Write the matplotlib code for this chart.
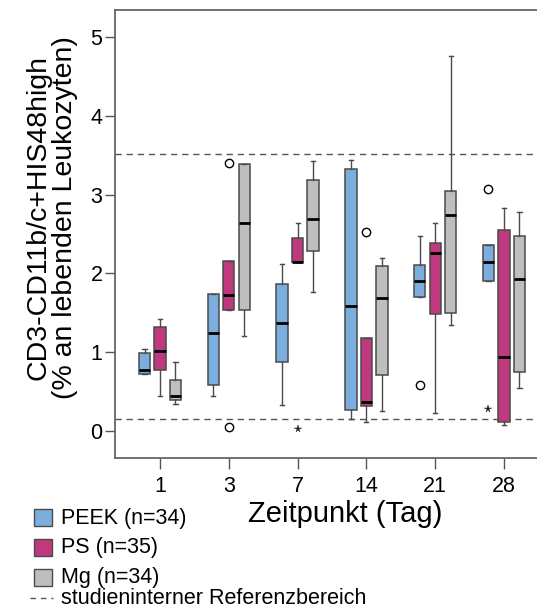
import matplotlib
matplotlib.use("Agg")
import matplotlib.pyplot as plt
from matplotlib.patches import Rectangle
from matplotlib.lines import Line2D

plt.rcParams['font.family'] = ['Liberation Sans', 'DejaVu Sans']

# Time points (days)
days = ["1", "3", "7", "14", "21", "28"]

# PEEK (n=34)
peek_lo  = [0.72, 0.45, 0.33, 0.15, 1.70, 1.91]
peek_q1  = [0.72, 0.59, 0.87, 0.27, 1.70, 1.91]
peek_med = [0.78, 1.24, 1.37, 1.59, 1.90, 2.14]
peek_q3  = [0.99, 1.74, 1.86, 3.32, 2.11, 2.36]
peek_hi  = [1.04, 1.74, 2.12, 3.44, 2.47, 2.36]

# PS (n=35)
ps_lo  = [0.45, 1.53, 2.14, 0.11, 0.23, 0.08]
ps_q1  = [0.77, 1.53, 2.14, 0.32, 1.49, 0.12]
ps_med = [1.02, 1.72, 2.14, 0.37, 2.26, 0.94]
ps_q3  = [1.32, 2.16, 2.45, 1.18, 2.38, 2.55]
ps_hi  = [1.42, 2.16, 2.64, 1.18, 2.64, 2.83]

# Mg (n=34)
mg_lo  = [0.34, 1.21, 1.76, 0.25, 1.35, 0.55]
mg_q1  = [0.39, 1.54, 2.28, 0.71, 1.50, 0.75]
mg_med = [0.45, 2.64, 2.69, 1.69, 2.74, 1.93]
mg_q3  = [0.65, 3.39, 3.19, 2.09, 3.05, 2.48]
mg_hi  = [0.88, 3.39, 3.43, 2.20, 4.76, 2.78]

# Outliers: (day index, group index, value, kind) - 'o' outlier, '*' extreme
outlier_day   = [1, 1, 2, 3, 4, 5, 5]
outlier_group = [1, 1, 1, 1, 0, 0, 0]
outlier_value = [3.40, 0.05, 0.03, 2.52, 0.58, 3.07, 0.28]
outlier_kind  = ["o", "o", "*", "o", "o", "o", "*"]

# Study-internal reference range
ref_low, ref_high = 0.15, 3.51

group_names = ["PEEK (n=34)", "PS (n=35)", "Mg (n=34)"]
group_colors = ["#7BAEDC", "#C0387E", "#BEBEBE"]
groups = [
    (peek_lo, peek_q1, peek_med, peek_q3, peek_hi),
    (ps_lo, ps_q1, ps_med, ps_q3, ps_hi),
    (mg_lo, mg_q1, mg_med, mg_q3, mg_hi),
]

W, H = 537, 610
fig = plt.figure(figsize=(W / 100, H / 100), dpi=100)
ax = fig.add_axes([115 / W, 1 - 457.5 / H, 1 - 115 / W, (457.5 - 10) / H])

offset = 0.225
box_w = 0.165
edge = "#4a4a4a"

for g, (lo, q1, med, q3, hi) in enumerate(groups):
    stats = []
    for i in range(len(days)):
        stats.append(dict(whislo=lo[i], q1=q1[i], med=med[i], q3=q3[i],
                          whishi=hi[i], fliers=[]))
    pos = [i + (g - 1) * offset for i in range(len(days))]
    ax.bxp(stats, positions=pos, widths=box_w, capwidths=0.06,
           patch_artist=True, showfliers=False, manage_ticks=False,
           boxprops=dict(facecolor=group_colors[g], edgecolor=edge, linewidth=1.1),
           whiskerprops=dict(color=edge, linewidth=1.0),
           capprops=dict(color=edge, linewidth=1.0),
           medianprops=dict(color="black", linewidth=2.0, solid_capstyle="butt"))

for d, g, v, k in zip(outlier_day, outlier_group, outlier_value, outlier_kind):
    x = d + (g - 1) * offset
    if k == "o":
        ax.plot(x, v, marker="o", ms=6, mfc="white", mec="black", mew=1.0, ls="none")
    else:
        ax.plot(x, v, marker="*", ms=5.5, mfc="#222222", mec="#222222", mew=0.3, ls="none")

for y in (ref_low, ref_high):
    ax.axhline(y, color="#555555", lw=1.0, ls=(0, (4.5, 3.5)), zorder=0.5)

ax.set_xlim(-0.654, 5.48)
ax.set_ylim(-0.336, 5.343)
ax.set_xticks(range(len(days)))
ax.set_xticklabels(days)
ax.set_yticks([0, 1, 2, 3, 4, 5])
ax.set_yticklabels(["0", "1", "2", "3", "4", "5"])
ax.tick_params(axis="x", length=8, width=1, color="#555555", labelsize=15.5, pad=5)
ax.tick_params(axis="y", length=7, width=1, color="#555555", labelsize=15.5, pad=2)

for s in ("left", "bottom", "top"):
    ax.spines[s].set_color("#666666")
    ax.spines[s].set_linewidth(1.3)
ax.spines["right"].set_visible(False)

fig.text(52 / W, 1 - 218 / H,
         "CD3-CD11b/c+HIS48high\n(% an lebenden Leukozyten)",
         rotation=90, ha="center", va="center", fontsize=20.5, linespacing=1.05)
fig.text(345 / W, 1 - 514 / H, "Zeitpunkt (Tag)", ha="center", va="center",
         fontsize=21)

# Legend
leg_y = [517.5, 547, 577]
for y, name, col in zip(leg_y, group_names, group_colors):
    fig.patches.append(Rectangle((34 / W, 1 - (y + 8.5) / H), 18 / W, 17 / H,
                                 transform=fig.transFigure, facecolor=col,
                                 edgecolor=edge, linewidth=1.0))
    fig.text(61 / W, 1 - (y + 1) / H, name, ha="left", va="center", fontsize=15.5)
fig.lines.append(Line2D([30 / W, 53 / W], [1 - 598 / H, 1 - 598 / H],
                        transform=fig.transFigure, color="#555555", lw=1.0,
                        ls=(0, (4, 3.5))))
fig.text(61 / W, 1 - 599 / H, "studieninterner Referenzbereich", ha="left",
         va="center", fontsize=15.5)

fig.savefig("out.png", dpi=100)
